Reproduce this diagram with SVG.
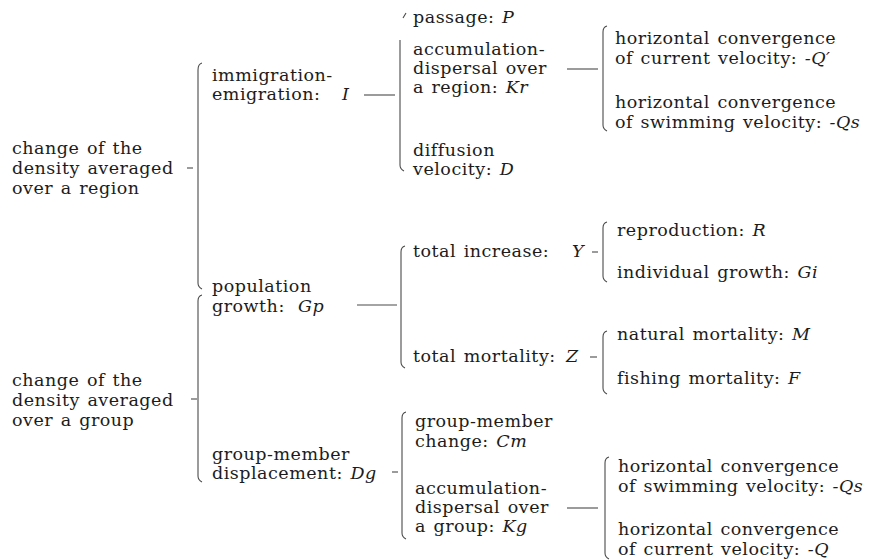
<svg xmlns="http://www.w3.org/2000/svg" width="892" height="560" viewBox="0 0 892 560">
<style>
text{font-family:"DejaVu Serif","Liberation Serif",serif;font-size:17.5px;fill:#1c1c1c;letter-spacing:0.5px;word-spacing:1.5px}
.v{font-style:italic}
.c path,.c line{fill:none;stroke:#4a4a4a;stroke-width:1.1}
</style>
<rect width="892" height="560" fill="#fff"/>
<g class="c" id="connectors">
<path d="M202,63 Q198,64 198,70 L198,283 Q198,287 202,289"/>
<path d="M202,295 Q198,296 198,301 L198,476 Q198,480 202,482"/>
<line x1="187" y1="168" x2="193" y2="168"/>
<line x1="191" y1="399" x2="197" y2="399"/>
<line x1="364" y1="95" x2="395" y2="95"/>
<path d="M406,13 L403,18 M400,40 L400,165 Q400,169 404,171"/>
<line x1="567" y1="69" x2="598" y2="69"/>
<path d="M607,26 Q603,27 603,32 L603,125 Q603,129 607,131"/>
<line x1="357" y1="305" x2="397" y2="305"/>
<path d="M405,246 Q401,247 401,252 L401,362 Q401,366 405,368"/>
<line x1="592" y1="252" x2="598" y2="252"/>
<path d="M607,222 Q603,223 603,228 L603,276 Q603,280 607,282"/>
<line x1="590" y1="357" x2="597" y2="357"/>
<path d="M607,331 Q603,332 603,337 L603,388 Q603,392 607,394"/>
<line x1="392" y1="472" x2="398" y2="472"/>
<path d="M406,412 Q402,413 402,418 L402,533 Q402,537 406,539"/>
<line x1="567" y1="508" x2="598" y2="508"/>
<path d="M609,457 Q605,458 605,463 L605,553 Q605,557 609,559"/>
</g>
<g id="n-region"><text x="12" y="154">change of the</text><text x="12" y="174">density averaged</text><text x="12" y="194">over a region</text></g>
<g id="n-group"><text x="12" y="386">change of the</text><text x="12" y="406">density averaged</text><text x="12" y="426">over a group</text></g>
<g id="n-I"><text x="212" y="81">immigration-</text><text x="212" y="100">emigration: <tspan class="v" x="342">I</tspan></text></g>
<g id="n-Gp"><text x="212" y="292">population</text><text x="212" y="312">growth: <tspan class="v" x="298">Gp</tspan></text></g>
<g id="n-Dg"><text x="212" y="460">group-member</text><text x="212" y="479">displacement: <tspan class="v">Dg</tspan></text></g>
<g id="n-P"><text x="413" y="23">passage: <tspan class="v">P</tspan></text></g>
<g id="n-Kr"><text x="413" y="55">accumulation-</text><text x="413" y="74">dispersal over</text><text x="413" y="93">a region: <tspan class="v">Kr</tspan></text></g>
<g id="n-D"><text x="413" y="156">diffusion</text><text x="413" y="175">velocity: <tspan class="v">D</tspan></text></g>
<g id="n-Q1"><text x="615" y="44">horizontal convergence</text><text x="615" y="64">of current velocity: <tspan class="v">-Q′</tspan></text></g>
<g id="n-Qs1"><text x="615" y="108">horizontal convergence</text><text x="615" y="128">of swimming velocity: <tspan class="v">-Qs</tspan></text></g>
<g id="n-Y"><text x="413" y="257">total increase: <tspan class="v" x="572">Y</tspan></text></g>
<g id="n-Z"><text x="413" y="362">total mortality: <tspan class="v" x="566">Z</tspan></text></g>
<g id="n-R"><text x="617" y="236">reproduction: <tspan class="v">R</tspan></text></g>
<g id="n-Gi"><text x="617" y="278">individual growth: <tspan class="v">Gi</tspan></text></g>
<g id="n-M"><text x="617" y="340">natural mortality: <tspan class="v">M</tspan></text></g>
<g id="n-F"><text x="617" y="384">fishing mortality: <tspan class="v">F</tspan></text></g>
<g id="n-Cm"><text x="415" y="427">group-member</text><text x="415" y="447">change: <tspan class="v">Cm</tspan></text></g>
<g id="n-Kg"><text x="415" y="494">accumulation-</text><text x="415" y="513">dispersal over</text><text x="415" y="532">a group: <tspan class="v">Kg</tspan></text></g>
<g id="n-Qs2"><text x="618" y="472">horizontal convergence</text><text x="618" y="492">of swimming velocity: <tspan class="v">-Qs</tspan></text></g>
<g id="n-Q2"><text x="618" y="535">horizontal convergence</text><text x="618" y="555">of current velocity: <tspan class="v">-Q</tspan></text></g>
</svg>
